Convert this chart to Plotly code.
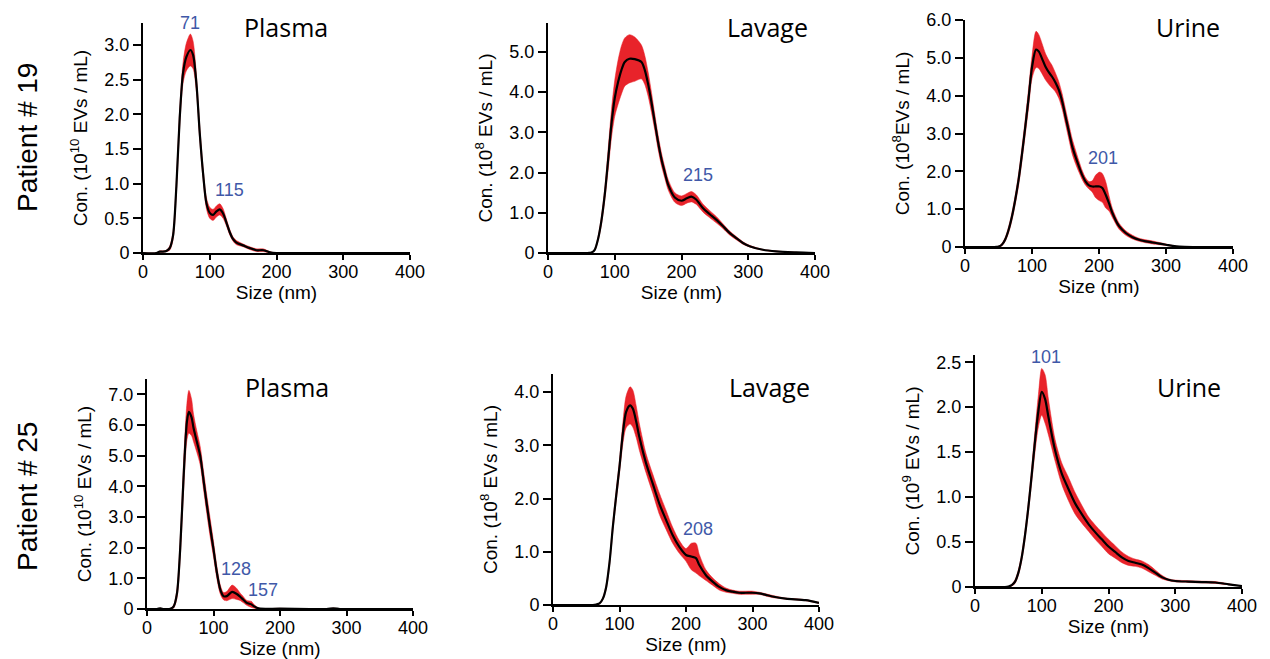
import plotly.graph_objects as go

# ---------------- data ----------------
# Patient 19 - Plasma (10^10 EVs/mL)
p19_plasma_x = [0, 20, 25, 30, 35, 40, 45, 50, 55, 60, 65, 71, 75, 80, 85, 90, 95, 100, 105, 110, 115, 120, 125, 130, 135, 140, 150, 160, 170, 180, 190, 200, 300, 400]
p19_plasma_mean = [0, 0, 0.02, 0.02, 0.03, 0.07, 0.25, 0.96, 1.95, 2.6, 2.83, 2.93, 2.86, 2.45, 1.73, 1.15, 0.72, 0.58, 0.55, 0.6, 0.63, 0.57, 0.44, 0.3, 0.2, 0.15, 0.11, 0.07, 0.04, 0.04, 0.01, 0, 0, 0]
p19_plasma_err = [0, 0, 0.01, 0.01, 0.01, 0.03, 0.06, 0.1, 0.12, 0.15, 0.2, 0.23, 0.2, 0.12, 0.1, 0.08, 0.08, 0.08, 0.08, 0.08, 0.08, 0.07, 0.05, 0.04, 0.03, 0.03, 0.02, 0.02, 0.02, 0.02, 0.01, 0, 0, 0]

# Patient 19 - Lavage (10^8 EVs/mL)
p19_lavage_x = [0, 60, 65, 70, 75, 80, 85, 90, 95, 100, 105, 110, 115, 122, 130, 140, 145, 150, 155, 160, 165, 170, 175, 180, 190, 200, 208, 215, 222, 232, 242, 252, 262, 272, 282, 292, 302, 322, 342, 372, 400]
p19_lavage_mean = [0, 0, 0.01, 0.08, 0.35, 0.8, 1.45, 2.3, 3.2, 3.85, 4.25, 4.55, 4.75, 4.83, 4.82, 4.75, 4.55, 4.2, 3.75, 3.25, 2.75, 2.33, 2.0, 1.7, 1.38, 1.3, 1.36, 1.4, 1.33, 1.12, 0.97, 0.83, 0.67, 0.5, 0.37, 0.25, 0.17, 0.08, 0.04, 0.015, 0]
p19_lavage_err = [0, 0, 0, 0.02, 0.05, 0.1, 0.15, 0.25, 0.35, 0.45, 0.55, 0.6, 0.6, 0.6, 0.55, 0.42, 0.36, 0.3, 0.25, 0.2, 0.18, 0.16, 0.14, 0.13, 0.12, 0.12, 0.12, 0.13, 0.12, 0.1, 0.09, 0.08, 0.06, 0.05, 0.04, 0.03, 0.02, 0.01, 0.01, 0, 0]

# Patient 19 - Urine (10^8 EVs/mL)
p19_urine_x = [0, 45, 50, 55, 60, 65, 70, 75, 80, 85, 90, 95, 100, 106, 110, 115, 120, 125, 130, 135, 140, 145, 150, 155, 160, 165, 170, 175, 180, 185, 190, 195, 201, 205, 210, 215, 220, 230, 240, 250, 260, 270, 280, 290, 300, 310, 320, 340, 400]
p19_urine_mean = [0, 0, 0.01, 0.06, 0.2, 0.45, 0.8, 1.25, 1.78, 2.45, 3.18, 3.95, 4.75, 5.22, 5.17, 4.98, 4.77, 4.62, 4.5, 4.35, 4.15, 3.85, 3.45, 3.05, 2.66, 2.38, 2.13, 1.9, 1.73, 1.63, 1.6, 1.6, 1.6, 1.56, 1.38, 1.15, 0.9, 0.55, 0.37, 0.26, 0.19, 0.15, 0.12, 0.09, 0.06, 0.03, 0.01, 0, 0]
p19_urine_err = [0, 0, 0.01, 0.03, 0.05, 0.08, 0.1, 0.12, 0.15, 0.18, 0.2, 0.25, 0.3, 0.48, 0.45, 0.4, 0.35, 0.32, 0.3, 0.25, 0.22, 0.2, 0.2, 0.2, 0.2, 0.18, 0.15, 0.12, 0.1, 0.1, 0.15, 0.3, 0.38, 0.38, 0.35, 0.2, 0.12, 0.08, 0.06, 0.05, 0.04, 0.04, 0.04, 0.03, 0.02, 0.01, 0, 0, 0]

# Patient 25 - Plasma (10^10 EVs/mL)
p25_plasma_x = [0, 15, 20, 25, 30, 35, 40, 45, 50, 55, 60, 63, 67, 70, 75, 80, 85, 90, 95, 100, 105, 110, 115, 120, 128, 135, 140, 145, 150, 157, 160, 165, 170, 200, 270, 280, 290, 300, 400]
p25_plasma_mean = [0, 0, 0.02, 0, 0, 0.01, 0.08, 0.5, 2.0, 4.3, 6.1, 6.43, 6.25, 5.9, 5.45, 5.0, 4.2, 3.4, 2.65, 1.95, 1.2, 0.65, 0.42, 0.42, 0.56, 0.49, 0.4, 0.3, 0.2, 0.15, 0.1, 0.04, 0.01, 0.01, 0, 0.02, 0, 0, 0]
p25_plasma_err = [0, 0, 0.01, 0, 0, 0.01, 0.05, 0.15, 0.3, 0.45, 0.6, 0.7, 0.6, 0.45, 0.35, 0.3, 0.3, 0.3, 0.3, 0.25, 0.2, 0.15, 0.12, 0.15, 0.22, 0.18, 0.12, 0.1, 0.08, 0.1, 0.07, 0.03, 0.01, 0.01, 0, 0.01, 0, 0, 0]

# Patient 25 - Lavage (10^8 EVs/mL)
p25_lavage_x = [0, 60, 65, 70, 75, 80, 85, 90, 95, 100, 105, 110, 116, 120, 125, 130, 140, 150, 160, 170, 180, 190, 200, 208, 215, 220, 230, 240, 250, 260, 270, 280, 290, 300, 310, 320, 330, 350, 380, 400]
p25_lavage_mean = [0, 0, 0.01, 0.03, 0.12, 0.34, 0.8, 1.47, 2.05, 2.6, 3.22, 3.63, 3.75, 3.69, 3.45, 3.15, 2.66, 2.28, 1.9, 1.6, 1.31, 1.09, 0.94, 0.91, 0.88, 0.75, 0.56, 0.44, 0.34, 0.28, 0.25, 0.23, 0.23, 0.23, 0.22, 0.19, 0.16, 0.12, 0.09, 0.04]
p25_lavage_err = [0, 0, 0, 0.01, 0.02, 0.04, 0.06, 0.08, 0.1, 0.12, 0.2, 0.3, 0.35, 0.35, 0.3, 0.25, 0.18, 0.18, 0.2, 0.18, 0.15, 0.12, 0.12, 0.25, 0.28, 0.2, 0.1, 0.07, 0.06, 0.04, 0.03, 0.03, 0.03, 0.03, 0.02, 0.02, 0.02, 0.01, 0.01, 0.01]

# Patient 25 - Urine (10^9 EVs/mL)
p25_urine_x = [0, 45, 50, 55, 60, 65, 70, 75, 80, 85, 90, 95, 100, 105, 110, 120, 130, 140, 150, 160, 170, 180, 190, 200, 210, 220, 230, 240, 250, 260, 270, 280, 290, 300, 320, 340, 360, 380, 400]
p25_urine_mean = [0, 0, 0.005, 0.02, 0.06, 0.16, 0.33, 0.58, 0.89, 1.25, 1.63, 1.96, 2.17, 2.09, 1.89, 1.52, 1.26, 1.09, 0.93, 0.81, 0.7, 0.61, 0.53, 0.45, 0.39, 0.33, 0.29, 0.27, 0.25, 0.21, 0.16, 0.11, 0.08, 0.067, 0.06, 0.055, 0.05, 0.03, 0.01]
p25_urine_err = [0, 0, 0, 0.01, 0.02, 0.03, 0.04, 0.05, 0.06, 0.08, 0.12, 0.18, 0.26, 0.27, 0.2, 0.12, 0.12, 0.13, 0.12, 0.1, 0.08, 0.08, 0.08, 0.08, 0.07, 0.06, 0.05, 0.04, 0.04, 0.04, 0.03, 0.02, 0.01, 0.01, 0.01, 0.01, 0.01, 0.005, 0]

sample_titles = ["Plasma", "Lavage", "Urine", "Plasma", "Lavage", "Urine"]
patient_labels = ["Patient # 19", "Patient # 25"]
y_titles = [
    "Con. (10<sup>10</sup> EVs / mL)",
    "Con. (10<sup>8</sup> EVs / mL)",
    "Con. (10<sup>8</sup>EVs / mL)",
    "Con. (10<sup>10</sup> EVs / mL)",
    "Con. (10<sup>8</sup> EVs / mL)",
    "Con. (10<sup>9</sup> EVs / mL)",
]
x_title = "Size (nm)"
x_tickvals = [0, 100, 200, 300, 400]
x_ticktext = ["0", "100", "200", "300", "400"]
y_tickvals = [
    [0, 0.5, 1.0, 1.5, 2.0, 2.5, 3.0],
    [0, 1, 2, 3, 4, 5],
    [0, 1, 2, 3, 4, 5, 6],
    [0, 1, 2, 3, 4, 5, 6, 7],
    [0, 1, 2, 3, 4],
    [0, 0.5, 1.0, 1.5, 2.0, 2.5],
]
y_ticktext = [
    ["0", "0.5", "1.0", "1.5", "2.0", "2.5", "3.0"],
    ["0", "1.0", "2.0", "3.0", "4.0", "5.0"],
    ["0", "1.0", "2.0", "3.0", "4.0", "5.0", "6.0"],
    ["0", "1.0", "2.0", "3.0", "4.0", "5.0", "6.0", "7.0"],
    ["0", "1.0", "2.0", "3.0", "4.0"],
    ["0", "0.5", "1.0", "1.5", "2.0", "2.5"],
]
y_max = [3.32, 5.72, 6.0, 7.5, 4.34, 2.58]

# peak labels: (panel index, label, x, y)
peak_panel = [0, 0, 1, 1, 2, 2, 3, 3, 3, 4, 4, 5]
peak_text = ["71", "115", "122", "215", "106", "201", "63", "128", "157", "116", "208", "101"]
peak_x = [71, 130, 121, 225, 104.5, 206, 61.6, 134, 174, 119, 218, 106]
peak_y = [3.32, 0.91, 5.77, 1.94, 6.06, 2.35, 7.56, 1.30, 0.62, 4.37, 1.43, 2.56]

series = [
    (p19_plasma_x, p19_plasma_mean, p19_plasma_err),
    (p19_lavage_x, p19_lavage_mean, p19_lavage_err),
    (p19_urine_x, p19_urine_mean, p19_urine_err),
    (p25_plasma_x, p25_plasma_mean, p25_plasma_err),
    (p25_lavage_x, p25_lavage_mean, p25_lavage_err),
    (p25_urine_x, p25_urine_mean, p25_urine_err),
]

# ---------------- layout geometry (page pixels) ----------------
W, H = 1270, 659


def fx(px):
    return px / W


def fy(py):
    return 1 - py / H


panel_px = [  # left, right, top, bottom
    (143, 410, 23, 253),
    (548, 815, 23, 253),
    (965, 1233, 20, 247),
    (147, 413, 379, 609),
    (553, 819, 374, 605),
    (975, 1242, 355, 587),
]
title_px = [(286, 27), (767, 27), (1188, 27), (287, 387), (769, 387), (1189, 387)]
patient_px = [(27, 138), (27, 497)]

RED = "#E8232A"
BLUE = "#4058A8"
TXT = "Liberation Sans, Arial, sans-serif"

fig = go.Figure()
for i, (xs, m, e) in enumerate(series):
    ax = "" if i == 0 else str(i + 1)
    upper = [a + b for a, b in zip(m, e)]
    lower = [max(a - b, 0) for a, b in zip(m, e)]
    fig.add_trace(go.Scatter(x=xs, y=lower, mode="lines", line=dict(width=0.5, color=RED, shape="spline", smoothing=0.8),
                             xaxis="x" + ax, yaxis="y" + ax, showlegend=False, hoverinfo="skip"))
    fig.add_trace(go.Scatter(x=xs, y=upper, mode="lines", line=dict(width=0.5, color=RED, shape="spline", smoothing=0.8),
                             fill="tonexty", fillcolor=RED,
                             xaxis="x" + ax, yaxis="y" + ax, showlegend=False, hoverinfo="skip"))
    fig.add_trace(go.Scatter(x=xs, y=m, mode="lines", line=dict(width=2.2, color="black", shape="spline", smoothing=0.8),
                             xaxis="x" + ax, yaxis="y" + ax, showlegend=False))

layout = dict(
    width=W, height=H, margin=dict(l=0, r=0, t=0, b=0, autoexpand=False),
    paper_bgcolor="white", plot_bgcolor="white",
    font=dict(family=TXT, color="black", size=18),
)
for i, (l, r, t, b) in enumerate(panel_px):
    ax = "" if i == 0 else str(i + 1)
    layout["xaxis" + ax] = dict(
        domain=[fx(l), fx(r)], range=[0, 400], anchor="y" + ax, automargin=False,
        tickvals=x_tickvals, ticktext=x_ticktext,
        showline=True, linewidth=2, linecolor="black", ticks="outside", ticklen=5, tickwidth=2, tickcolor="black",
        showgrid=False, zeroline=False, tickfont=dict(size=18, family=TXT), ticklabelstandoff=-4,
        title=dict(text=x_title, font=dict(size=19, family=TXT), standoff=2),
    )
    layout["yaxis" + ax] = dict(
        domain=[fy(b), fy(t)], range=[0, y_max[i]], anchor="x" + ax, automargin=False,
        tickvals=y_tickvals[i], ticktext=y_ticktext[i],
        showline=True, linewidth=2, linecolor="black", ticks="outside", ticklen=8, tickwidth=2, tickcolor="black",
        showgrid=False, zeroline=False, tickfont=dict(size=18, family=TXT),
        title=dict(text=y_titles[i], font=dict(size=19, family=TXT), standoff=12),
    )

annotations = []
for i, (tx, ty) in enumerate(title_px):
    annotations.append(dict(text=sample_titles[i], x=fx(tx), y=fy(ty), xref="paper", yref="paper",
                            showarrow=False, xanchor="center", yanchor="middle",
                            font=dict(size=25, family="Open Sans, sans-serif", color="black")))
for j, (px, py) in enumerate(patient_px):
    annotations.append(dict(text=patient_labels[j], x=fx(px), y=fy(py), xref="paper", yref="paper",
                            showarrow=False, textangle=-90, xanchor="center", yanchor="middle",
                            font=dict(size=28, family=TXT, color="black")))
for k in range(len(peak_text)):
    p = peak_panel[k]
    ax = "" if p == 0 else str(p + 1)
    annotations.append(dict(text=peak_text[k], x=peak_x[k], y=peak_y[k], xref="x" + ax, yref="y" + ax,
                            showarrow=False, xanchor="center", yanchor="middle",
                            font=dict(size=18, family=TXT, color=BLUE)))
layout["annotations"] = annotations

fig.update_layout(**layout)
fig.write_html("out.html", config={"displayModeBar": False},
               post_script="document.body.style.margin='0px';document.body.style.overflow='hidden';")
